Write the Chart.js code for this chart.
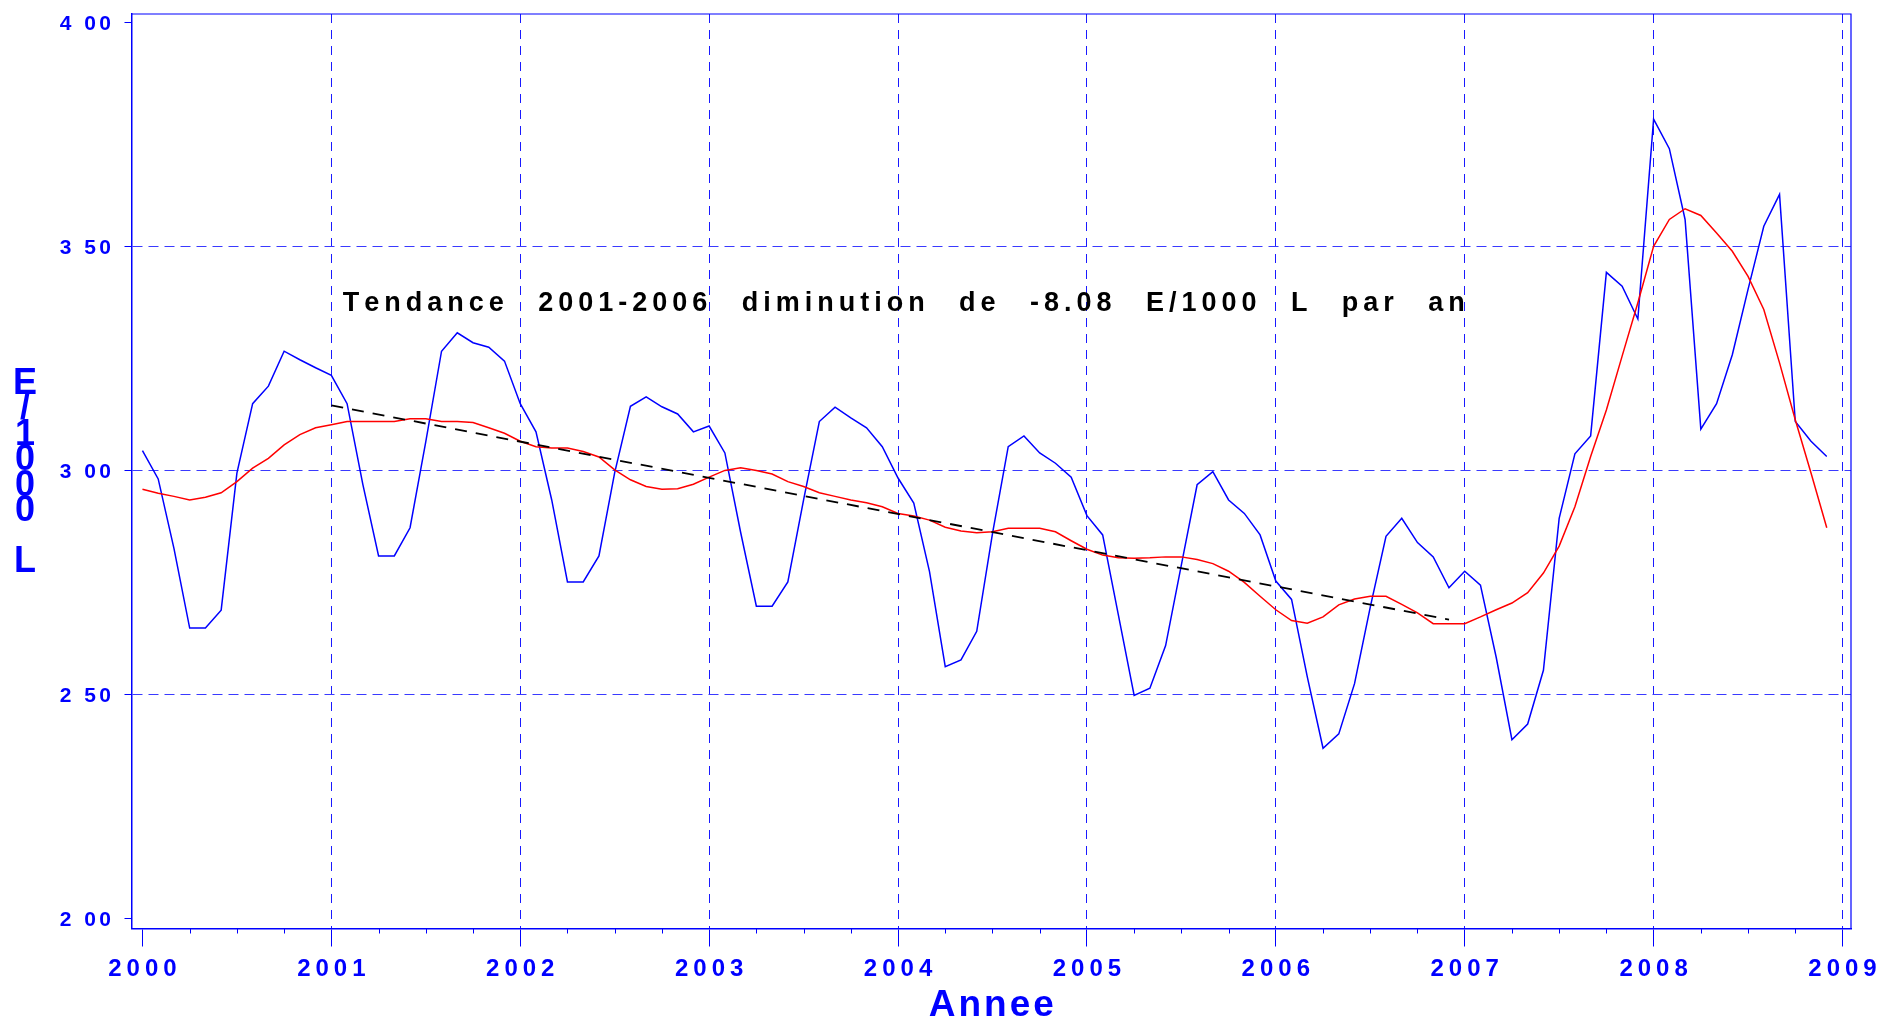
<!DOCTYPE html>
<html>
<head>
<meta charset="utf-8">
<script src="https://cdn.jsdelivr.net/npm/chart.js@4.4.0/dist/chart.umd.min.js"></script>
<style>
    html, body { margin: 0; padding: 0; background: #fff; }
    #wrap { width: 1879px; height: 1019px; position: relative; }
</style>
</head>
<body>
<div id="wrap"><canvas id="prix-chart"></canvas></div>
<script>
// monthly series, Jan 2000 .. Dec 2008
const anneeDebut = 2000;

// prix mensuel (E/1000 L)
const prixMensuel = [
    3.045, 2.982, 2.827, 2.649, 2.649, 2.689, 2.995, 3.150, 3.189, 3.267, 3.248, 3.230,
    3.213, 3.150, 2.970, 2.810, 2.810, 2.873, 3.065, 3.267, 3.308, 3.286, 3.276, 3.245,
    3.150, 3.087, 2.935, 2.752, 2.752, 2.810, 2.996, 3.144, 3.165, 3.143, 3.127, 3.087,
    3.100, 3.040, 2.863, 2.698, 2.698, 2.752, 2.935, 3.110, 3.142, 3.118, 3.096, 3.054,
    2.984, 2.928, 2.775, 2.563, 2.578, 2.642, 2.860, 3.054, 3.078, 3.040, 3.017, 2.986,
    2.900, 2.857, 2.678, 2.499, 2.515, 2.610, 2.790, 2.969, 2.998, 2.935, 2.905, 2.857,
    2.754, 2.713, 2.540, 2.381, 2.413, 2.525, 2.696, 2.854, 2.894, 2.840, 2.808, 2.739,
    2.776, 2.745, 2.584, 2.400, 2.435, 2.555, 2.894, 3.038, 3.078, 3.443, 3.412, 3.339,
    3.785, 3.719, 3.561, 3.093, 3.150, 3.259, 3.405, 3.546, 3.617, 3.110, 3.066, 3.032
];

// moyenne lissee (red)
const moyenneMobile = [
    2.959, 2.950, 2.943, 2.935, 2.941, 2.951, 2.976, 3.006, 3.028, 3.058, 3.081, 3.096,
    3.103, 3.110, 3.110, 3.110, 3.110, 3.116, 3.116, 3.110, 3.110, 3.108, 3.096, 3.084,
    3.066, 3.054, 3.051, 3.051, 3.043, 3.031, 3.002, 2.980, 2.965, 2.959, 2.960, 2.970,
    2.986, 3.001, 3.007, 3.001, 2.993, 2.976, 2.965, 2.951, 2.943, 2.935, 2.929, 2.920,
    2.905, 2.899, 2.890, 2.874, 2.866, 2.862, 2.864, 2.872, 2.872, 2.872, 2.864, 2.844,
    2.825, 2.812, 2.806, 2.805, 2.806, 2.808, 2.808, 2.802, 2.793, 2.776, 2.751, 2.720,
    2.690, 2.666, 2.660, 2.674, 2.701, 2.714, 2.720, 2.720, 2.702, 2.683, 2.659, 2.659,
    2.659, 2.674, 2.690, 2.705, 2.728, 2.772, 2.832, 2.920, 3.032, 3.136, 3.256, 3.375,
    3.501, 3.561, 3.585, 3.570, 3.531, 3.490, 3.434, 3.360, 3.241, 3.114, 2.995, 2.873
];

// droite de tendance 2001-2006
const tendanceAnnees = [2001.0, 2006.917];
const tendanceValeurs = [3.146, 2.668];

const anneesAxe = [2000, 2001, 2002, 2003, 2004, 2005, 2006, 2007, 2008, 2009];
const graduationsY = [2.0, 2.5, 3.0, 3.5, 4.0];

const titreTendance = 'Tendance 2001-2006 diminution de -8.08 E/1000 L par an';
const titreX = 'Annee';
const titreY = 'E/1000 L';

const BLEU = '#0000ff';
const GRILLE_H = '#3a3aff';
const GRILLE_V = '#1a1aff';
const POLICE = '"Liberation Sans", Arial, sans-serif';

const toPoints = (valeurs) => valeurs.map((v, i) => ({x: anneeDebut + i / 12, y: v}));

// draw text char by char with extra spacing
function spaced(ctx, text, x, y, ls, align) {
    const chars = [...text];
    const widths = chars.map(c => ctx.measureText(c).width);
    const total = widths.reduce((a, b) => a + b, 0) + ls * (chars.length - 1);
    let cx = x;
    if (align === 'center') cx = x - total / 2;
    if (align === 'right') cx = x - total;
    chars.forEach((c, i) => {
        ctx.fillText(c, cx, y);
        cx += widths[i] + ls;
    });
}

// words spread between x0 and x1
function spreadWords(ctx, text, x0, x1, y, ls) {
    const words = text.split(' ');
    const wordWidth = (w) => [...w].reduce((a, c) => a + ctx.measureText(c).width, 0) + ls * (w.length - 1);
    const widths = words.map(wordWidth);
    const gap = (x1 - x0 - widths.reduce((a, b) => a + b, 0)) / (words.length - 1);
    let cx = x0;
    words.forEach((w, i) => {
        spaced(ctx, w, cx, y, ls, 'left');
        cx += widths[i] + gap;
    });
}

const decor = {
    id: 'decor',
    afterDraw(chart) {
        const {ctx, chartArea: a, scales: {x, y}} = chart;
        ctx.save();
        ctx.textAlign = 'left';
        ctx.textBaseline = 'alphabetic';

        // top and right frame
        ctx.strokeStyle = BLEU;
        ctx.lineWidth = 1.2;
        ctx.beginPath();
        ctx.moveTo(a.left, a.top);
        ctx.lineTo(a.right, a.top);
        ctx.lineTo(a.right, a.bottom);
        ctx.stroke();

        // minor ticks every quarter
        ctx.lineWidth = 1;
        ctx.beginPath();
        for (let i = 0; i < anneesAxe.length - 1; i++) {
            [0.25, 0.5, 0.75].forEach(q => {
                const px = Math.round(x.getPixelForValue(anneesAxe[i] + q)) + 0.5;
                ctx.moveTo(px, a.bottom);
                ctx.lineTo(px, a.bottom + 5);
            });
        }
        ctx.stroke();

        ctx.fillStyle = BLEU;

        // y tick labels
        ctx.font = 'bold 21px ' + POLICE;
        graduationsY.forEach(v => {
            const label = v.toFixed(2).replace('.', ' ');
            spaced(ctx, label, 111, y.getPixelForValue(v) + 7.5, 3.5, 'right');
        });

        // x tick labels
        ctx.font = 'bold 24px ' + POLICE;
        anneesAxe.forEach(an => {
            spaced(ctx, String(an), x.getPixelForValue(an), a.bottom + 47.5, 5, 'center');
        });

        // x title
        ctx.font = 'bold 37px ' + POLICE;
        spaced(ctx, titreX, (a.left + a.right) / 2, 1016, 3, 'center');

        // y title, stacked letters
        ctx.font = 'bold 36px ' + POLICE;
        [...titreY].forEach((c, i) => {
            if (c === ' ') return;
            const cy = 381 + i * 25.4;
            spaced(ctx, c, 25, cy + 13, 0, 'center');
        });

        // trend annotation
        ctx.fillStyle = '#000';
        ctx.font = 'bold 27px ' + POLICE;
        spreadWords(ctx, titreTendance, x.getPixelForValue(2001.06), x.getPixelForValue(2007.0),
            y.getPixelForValue(3.356), 5);

        ctx.restore();
    }
};

let chart = null;

function drawChart() {
    const options = {
        type: 'line',
        data: {
            datasets: [
                {
                    label: 'Tendance',
                    data: tendanceAnnees.map((t, i) => ({x: t, y: tendanceValeurs[i]})),
                    borderColor: '#000',
                    borderWidth: 1.8,
                    borderDash: [12, 9],
                },
                {
                    label: 'Moyenne',
                    data: toPoints(moyenneMobile),
                    borderColor: '#ff0000',
                    borderWidth: 1.5,
                },
                {
                    label: 'Prix',
                    data: toPoints(prixMensuel),
                    borderColor: BLEU,
                    borderWidth: 1.5,
                },
            ]
        },
        options: {
            responsive: true,
            maintainAspectRatio: false,
            animation: false,
            events: [],
            elements: {
                point: {radius: 0},
                line: {tension: 0, fill: false},
            },
            layout: {padding: {top: 14, right: 28, left: 0, bottom: 0}},
            plugins: {
                legend: {display: false},
                tooltip: {enabled: false},
            },
            scales: {
                x: {
                    type: 'linear',
                    position: 'bottom',
                    min: 1999.942,
                    max: 2009.045,
                    afterBuildTicks: (scale) => {
                        scale.ticks = anneesAxe.map(v => ({value: v}));
                    },
                    afterFit: (scale) => {
                        scale.height = 90.5;
                    },
                    ticks: {display: false},
                    grid: {
                        color: (c) => (c.tick && c.tick.value === anneesAxe[0]) ? 'rgba(0,0,0,0)' : GRILLE_V,
                        tickColor: BLEU,
                        tickLength: 18,
                        lineWidth: 1,
                    },
                    border: {color: BLEU, width: 1.5, dash: [9, 7]},
                },
                y: {
                    type: 'linear',
                    min: 1.9786,
                    max: 4.0196,
                    afterBuildTicks: (scale) => {
                        scale.ticks = graduationsY.map(v => ({value: v}));
                    },
                    afterFit: (scale) => {
                        scale.width = 131.5;
                    },
                    ticks: {display: false},
                    grid: {
                        color: (c) => (c.tick && (c.tick.value === 2 || c.tick.value === 4)) ? 'rgba(0,0,0,0)' : GRILLE_H,
                        tickColor: BLEU,
                        tickLength: 7,
                        lineWidth: 1,
                    },
                    border: {color: BLEU, width: 1.5, dash: [10, 6]},
                },
            },
        },
        plugins: [decor],
    };
    chart = new Chart(document.querySelector('#prix-chart'), options);
}

drawChart();
</script>
</body>
</html>
